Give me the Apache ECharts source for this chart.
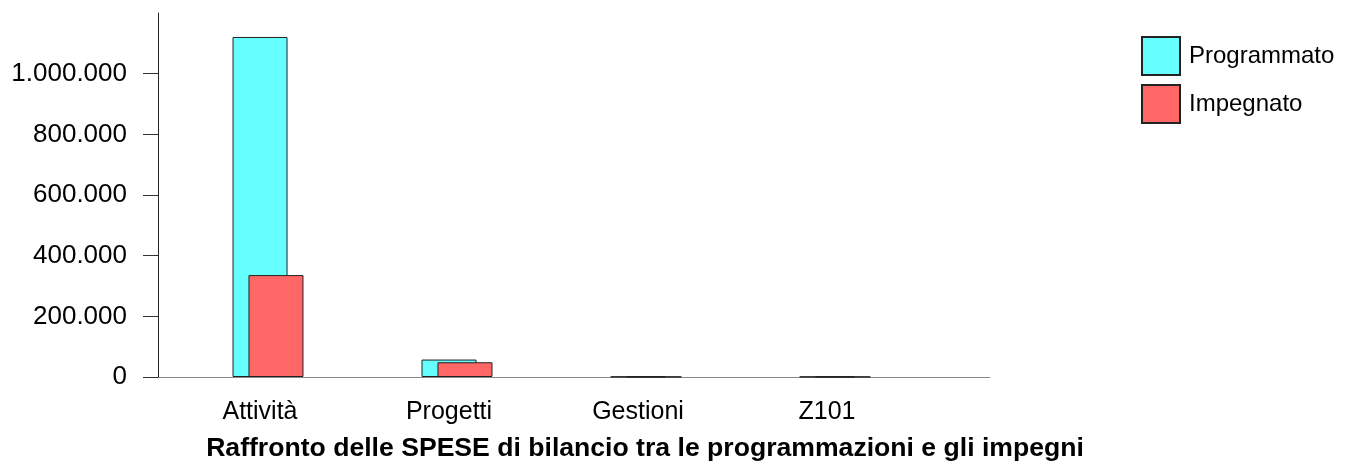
<!DOCTYPE html>
<html>
<head>
<meta charset="utf-8">
<script src="https://cdn.jsdelivr.net/npm/echarts@6/dist/echarts.min.js"></script>
<style>
  html, body { margin: 0; padding: 0; background: #fff; }
  #chart { width: 1351px; height: 466px; }
</style>
</head>
<body>
<div id="chart"></div>
<script>
var categories = ['Attività', 'Progetti', 'Gestioni', 'Z101'];
var programmato = [1121000, 57500, 1200, 1000];
var impegnato = [336000, 48600, 1000, 800];
var yTicks = [0, 200000, 400000, 600000, 800000, 1000000];
var titleText = 'Raffronto delle SPESE di bilancio tra le programmazioni e gli impegni';

var FONT = '"Liberation Sans", Arial, Helvetica, sans-serif';

function fmtNum(v) {
    return String(v).replace(/\B(?=(\d{3})+(?!\d))/g, '.');
}

// coppie [indice categoria, valore] per l'asse x numerico
function pairs(arr) {
    return arr.map(function(v, i) { return [i, v]; });
}

var chart = echarts.init(document.getElementById('chart'));
chart.setOption({
    animation: false,
    backgroundColor: '#fff',
    textStyle: { fontFamily: FONT },
    title: {
        text: titleText,
        left: 640,
        top: 430,
        textAlign: 'center',
        textStyle: { fontFamily: FONT, fontWeight: 'bold', fontSize: 26.6, color: '#000' }
    },
    legend: {
        orient: 'vertical',
        left: 1136,
        top: 31,
        itemWidth: 38,
        itemHeight: 38,
        itemGap: 8,
        icon: 'rect',
        textStyle: { fontFamily: FONT, fontSize: 24, color: '#000', padding: [0, 0, 0, 4] },
        data: ['Programmato', 'Impegnato']
    },
    grid: { left: 158, right: 361, top: 13, bottom: 89, containLabel: false },
    xAxis: {
        type: 'value',
        min: -0.582,
        max: 3.82,
        axisLine: { show: true, onZero: true, lineStyle: { color: '#888', width: 1 } },
        axisTick: { show: false },
        splitLine: { show: false },
        axisLabel: {
            customValues: [0, 1, 2, 3],
            formatter: function(v) { return categories[v]; },
            margin: 23,
            padding: [0, 16, 0, 0],
            fontFamily: FONT,
            fontSize: 25,
            color: '#000'
        }
    },
    yAxis: {
        type: 'value',
        min: 0,
        max: 1200000,
        axisLine: { show: true, onZero: false, lineStyle: { color: '#222', width: 1 } },
        axisTick: { show: true, length: 15, customValues: yTicks, lineStyle: { color: '#333' } },
        splitLine: { show: false },
        axisLabel: {
            customValues: yTicks,
            formatter: fmtNum,
            margin: 31,
            fontFamily: FONT,
            fontSize: 26,
            color: '#000'
        }
    },
    series: [
        {
            name: 'Programmato',
            type: 'bar',
            barWidth: 55,
            barGap: '-71%',
            data: pairs(programmato),
            itemStyle: { color: '#66ffff', borderColor: '#222', borderWidth: 1 }
        },
        {
            name: 'Impegnato',
            type: 'bar',
            barWidth: 55,
            data: pairs(impegnato),
            itemStyle: { color: '#ff6666', borderColor: '#222', borderWidth: 1 }
        }
    ]
});
</script>
</body>
</html>
